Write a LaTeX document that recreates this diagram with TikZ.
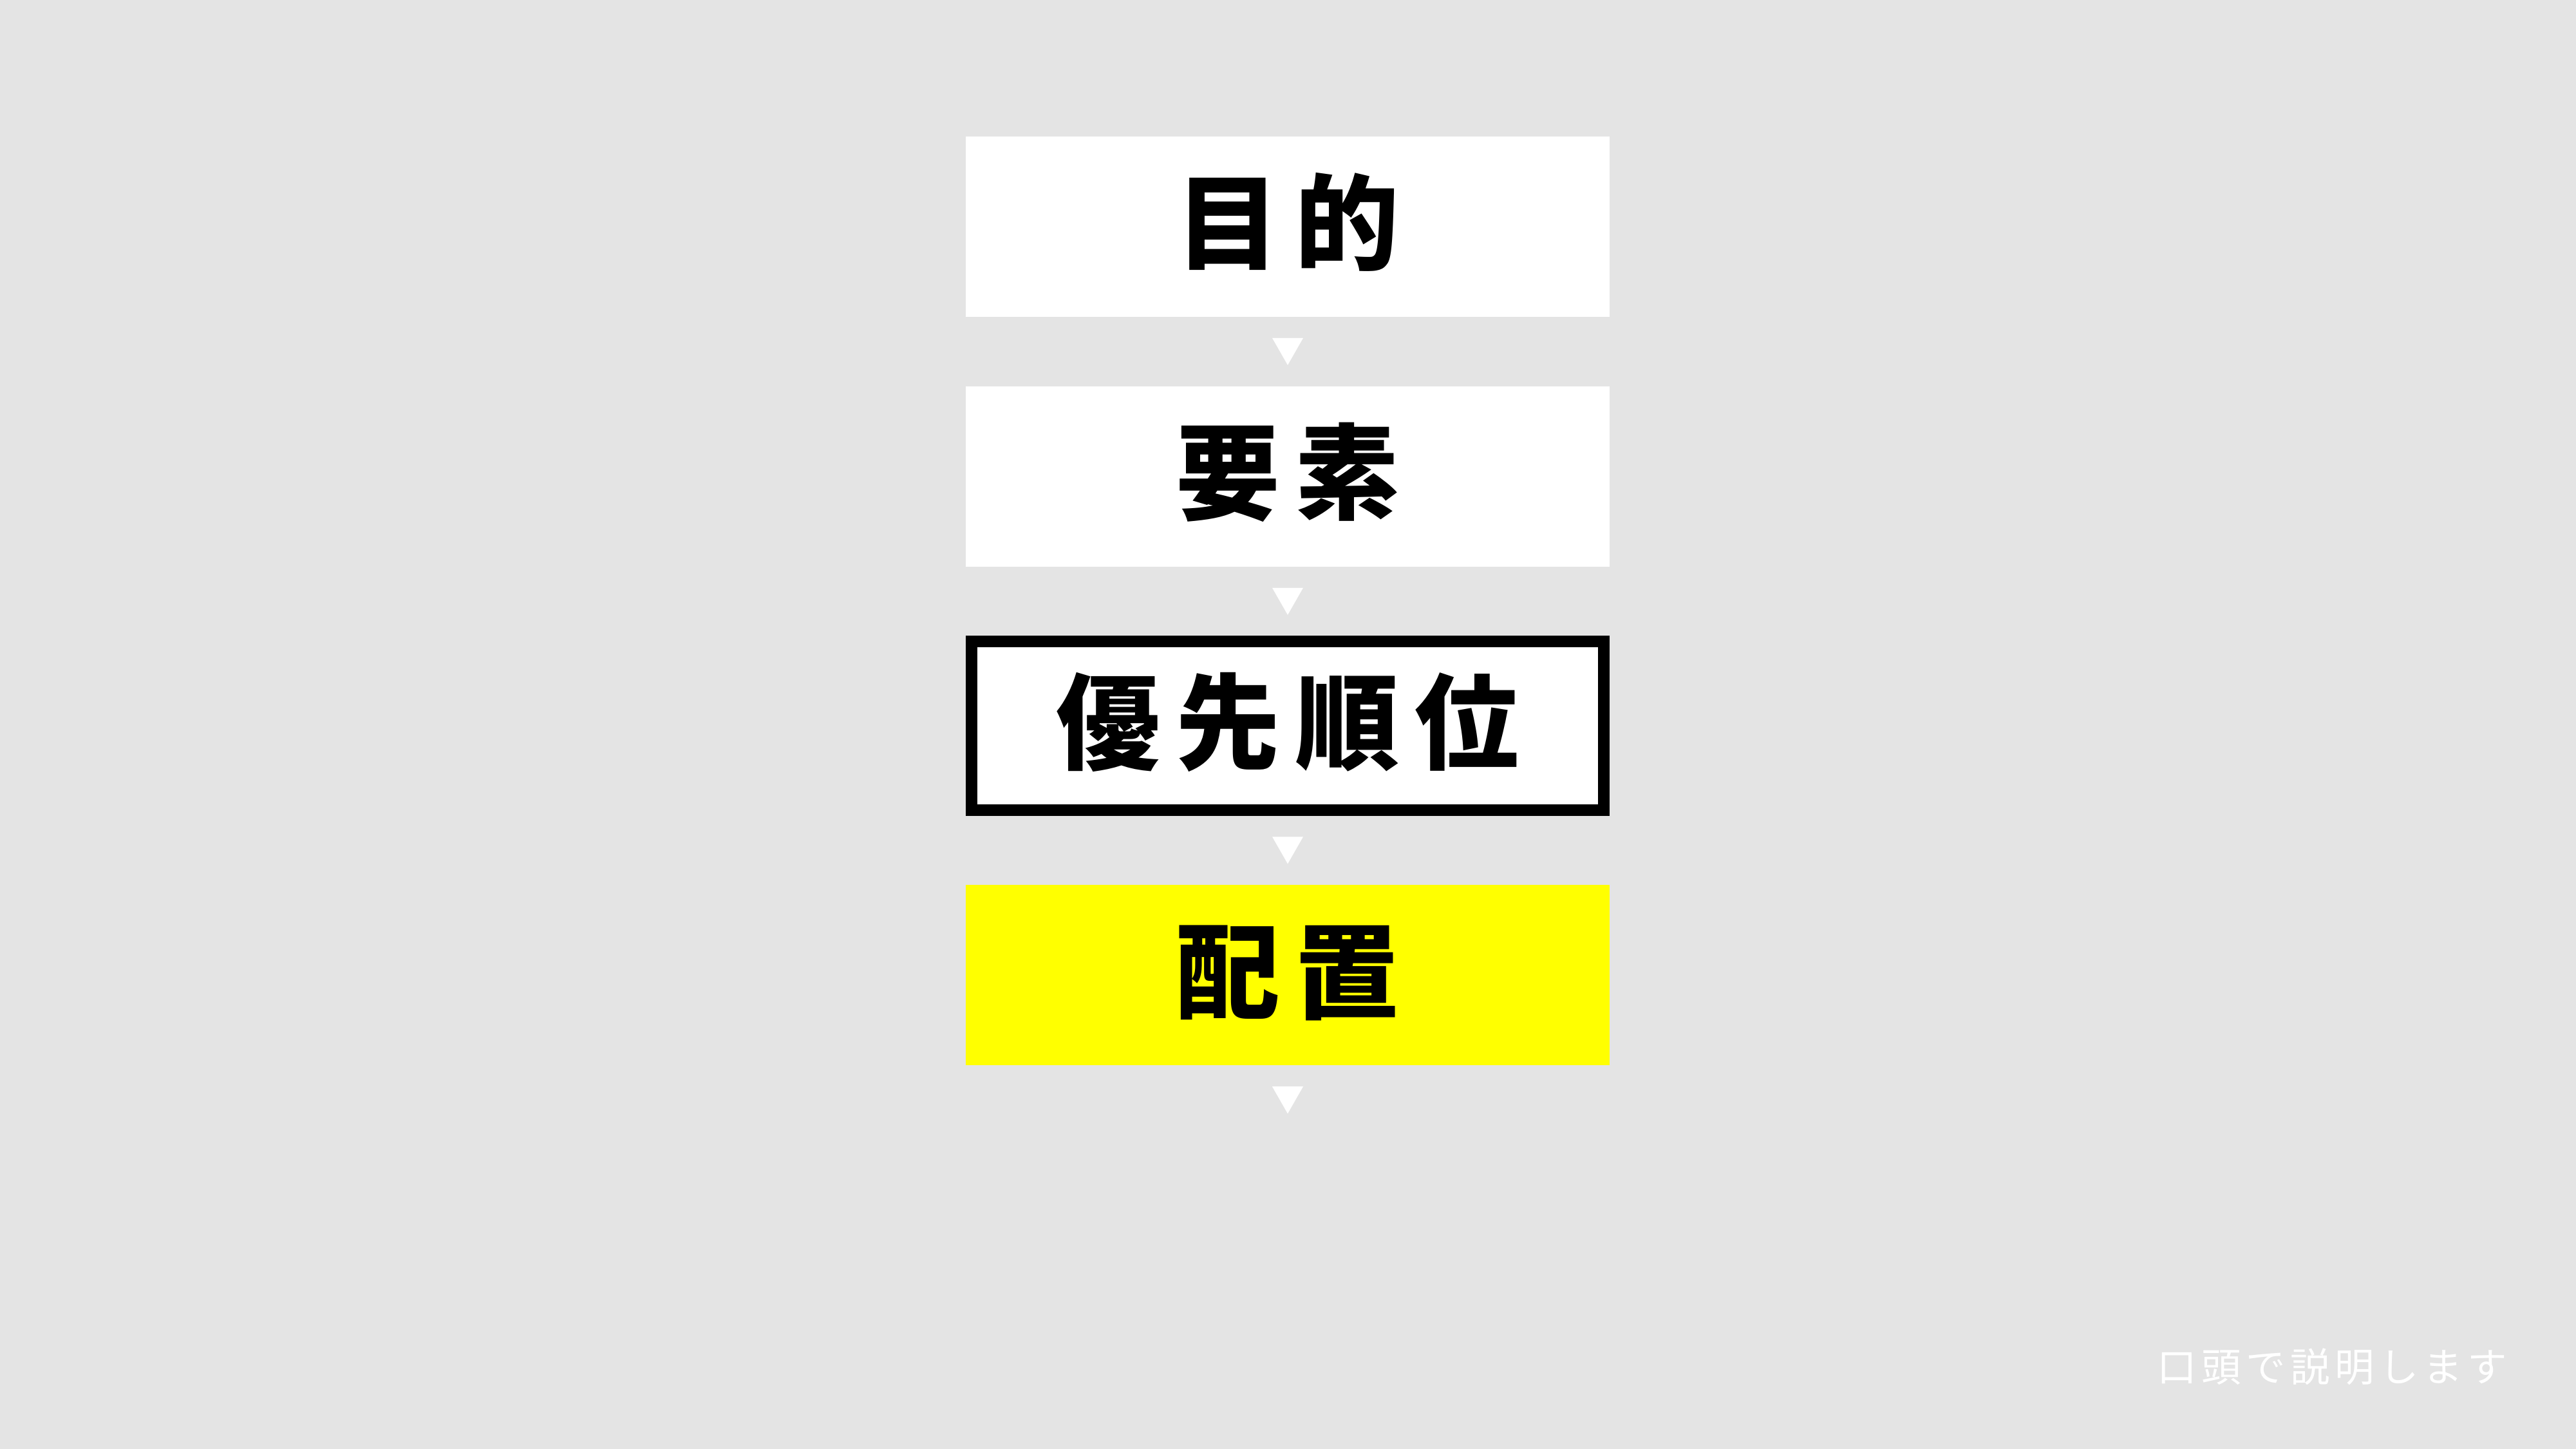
\documentclass[tikz,border=0pt]{standalone}
\usepackage{fontspec}
\newfontfamily\jpfont{Noto Sans CJK JP}
\usetikzlibrary{positioning, calc}

\definecolor{slidegray}{RGB}{228,228,228}
\definecolor{markyellow}{RGB}{255,255,0}

\tikzset{
  stage/.style={minimum width=10cm, minimum height=2.8cm, inner sep=0pt, fill=white,
    text height=1.4cm, text depth=0.3cm,
    font=\jpfont\bfseries\fontsize{46}{46}\selectfont\addfontfeature{LetterSpace=15}},
  current/.style={stage, draw=black, line width=0.18cm, minimum width=9.82cm, minimum height=2.62cm},
  note/.style={text=white, inner sep=0pt, anchor=east,
    font=\jpfont\fontsize{17.5}{17.5}\selectfont\addfontfeature{LetterSpace=12}}
}

\begin{document}
\begin{tikzpicture}

\fill[slidegray] (0,0) rectangle (40.01,22.5);  % slide background
\useasboundingbox (0,0) rectangle (40.01,22.5);

\node[stage] (goal) at (20,18.98) {目的};
\node[stage, below=1.065cm of goal] (parts) {要素};
\node[current, below=1.065cm of parts] (priority) {優先順位};
\node[stage, fill=markyellow, below=1.065cm of priority] (place) {配置};
\node[inner sep=0pt, outer sep=0pt, below=1.065cm of place] (after) {};

% small arrows between the steps
\foreach \a/\b in {goal/parts, parts/priority, priority/place, place/after}
    \fill[white] ($(\a.south)!0.5!(\b.north)$) ++(-0.24,0.21) -- ++(0.48,0) -- ++(-0.24,-0.42) -- cycle;

\node[note] (oral) at (38.95,1.28) {口頭で説明します};

\end{tikzpicture}
\end{document}
